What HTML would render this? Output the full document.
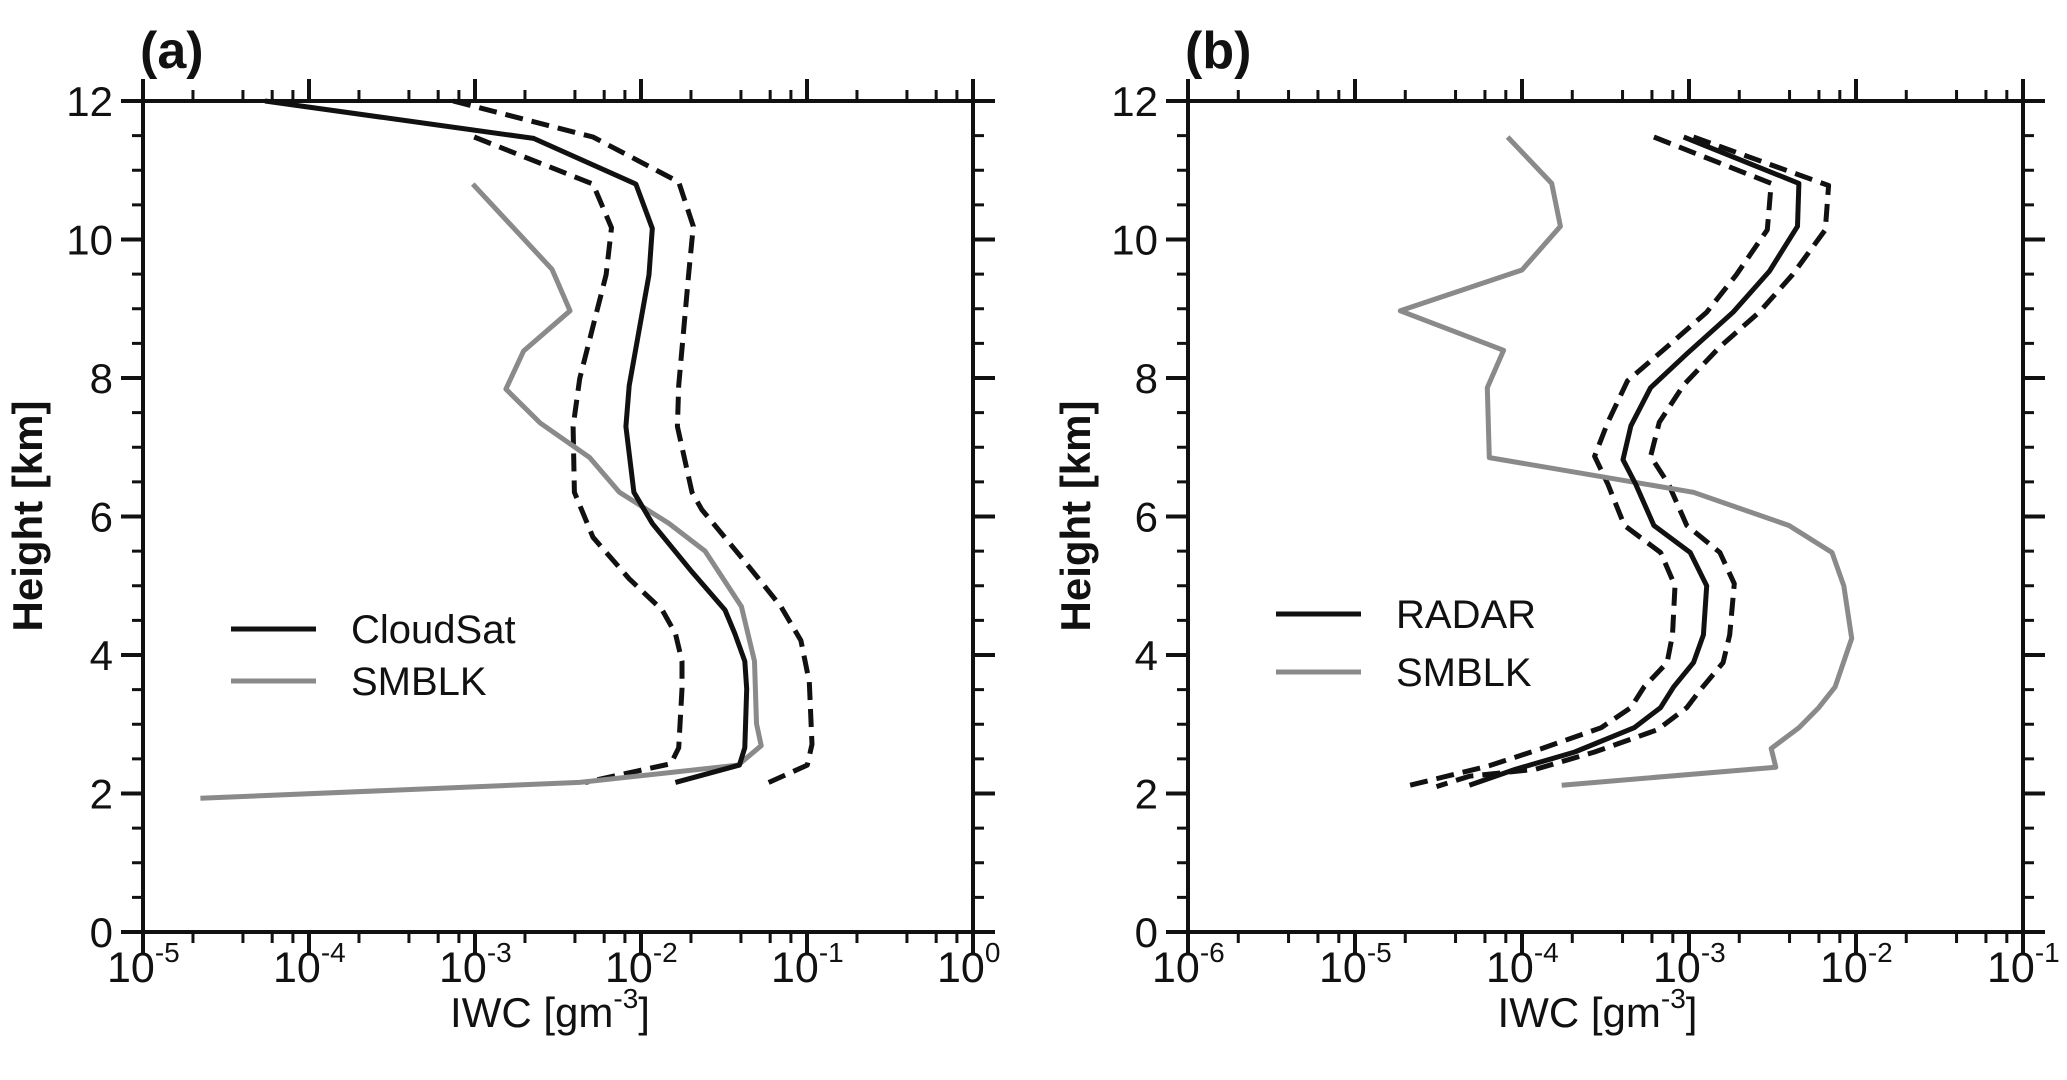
<!DOCTYPE html>
<html><head><meta charset="utf-8"><style>
html,body{margin:0;padding:0;background:#fff}
svg{display:block}
text{font-family:"Liberation Sans",sans-serif;fill:#111}
</style></head><body>
<svg id="fig" width="2067" height="1080" viewBox="0 0 2067 1080"></svg>
<script>
// Panel (a) data: heights km, log10 IWC
const aCloudH=[12.0,11.46,10.80,10.16,9.49,7.89,7.30,6.35,5.90,5.20,4.65,4.31,3.91,3.51,2.66,2.41,2.16];
const aCloudX=[-4.265,-2.647,-2.031,-1.932,-1.952,-2.071,-2.091,-2.043,-1.932,-1.693,-1.494,-1.435,-1.375,-1.363,-1.375,-1.407,-1.793];
const aUpH=[12.0,11.48,10.83,10.19,9.49,7.89,7.30,6.35,6.10,5.35,4.70,4.21,3.61,2.71,2.41,2.14];
const aUpX=[-3.132,-2.289,-1.773,-1.685,-1.713,-1.773,-1.781,-1.693,-1.634,-1.375,-1.157,-1.037,-0.986,-0.970,-0.998,-1.248];
const aLoH=[11.48,10.80,10.17,9.49,7.99,7.30,6.35,5.70,5.10,4.65,4.31,3.91,3.51,2.66,2.43,2.16];
const aLoX=[-3.005,-2.289,-2.178,-2.210,-2.369,-2.409,-2.401,-2.289,-2.071,-1.872,-1.793,-1.753,-1.753,-1.773,-1.820,-2.337];
const aSmH=[10.80,9.57,8.97,8.39,7.84,7.35,6.85,6.35,5.90,5.50,4.70,3.91,3.01,2.69,2.41,2.16,1.93];
const aSmX=[-3.013,-2.536,-2.428,-2.707,-2.814,-2.607,-2.309,-2.130,-1.832,-1.614,-1.395,-1.316,-1.304,-1.276,-1.415,-2.369,-4.654];
// Panel (b) data
const bRadH=[11.48,10.81,10.19,9.54,8.95,8.35,7.86,7.31,6.82,6.47,5.87,5.48,5.00,4.29,3.89,3.54,3.24,2.95,2.60,2.35,2.12];
const bRadX=[-3.032,-2.342,-2.350,-2.519,-2.736,-3.013,-3.230,-3.348,-3.395,-3.320,-3.210,-2.993,-2.894,-2.914,-2.973,-3.092,-3.170,-3.328,-3.684,-4.039,-4.315];
const bUpH=[11.48,10.78,10.14,9.49,8.95,8.45,7.90,7.36,6.87,6.47,5.87,5.48,5.03,4.29,3.89,3.49,3.24,2.92,2.60,2.35,2.25,2.10];
const bUpX=[-2.973,-2.164,-2.184,-2.381,-2.579,-2.815,-3.032,-3.178,-3.230,-3.123,-3.013,-2.815,-2.729,-2.756,-2.796,-2.934,-3.013,-3.190,-3.565,-3.920,-4.315,-4.512];
const bLoH=[11.48,10.81,10.14,9.49,8.95,8.45,7.96,7.36,6.87,6.47,5.87,5.48,5.00,4.29,3.89,3.54,3.24,2.95,2.65,2.40,2.12];
const bLoX=[-3.210,-2.508,-2.531,-2.717,-2.894,-3.131,-3.368,-3.486,-3.565,-3.486,-3.387,-3.170,-3.084,-3.099,-3.131,-3.269,-3.348,-3.526,-3.881,-4.197,-4.670];
const bSmH=[11.48,10.81,10.19,9.56,8.97,8.40,7.86,6.85,6.35,5.87,5.48,5.00,4.24,3.54,3.24,2.95,2.65,2.38,2.12];
const bSmX=[-4.086,-3.822,-3.770,-4.000,-4.729,-4.110,-4.208,-4.196,-2.973,-2.401,-2.144,-2.073,-2.026,-2.125,-2.223,-2.342,-2.508,-2.480,-3.762];
const yTicks=[0,2,4,6,8,10,12];
const aXExp=[-5,-4,-3,-2,-1,0];
const bXExp=[-6,-5,-4,-3,-2,-1];

const NS="http://www.w3.org/2000/svg";
const svg=document.getElementById('fig');
function mk(tag,attrs,parent){const e=document.createElementNS(NS,tag);for(const k in attrs)e.setAttribute(k,attrs[k]);(parent||svg).appendChild(e);return e;}

function panel(cfg){
  const g=mk('g',{});
  
  
  const L=cfg.left,R=cfg.right,T=101,B=932;
  const x0=cfg.exps[0],x1=cfg.exps[cfg.exps.length-1];
  const sx=v=>L+(v-x0)/(x1-x0)*(R-L);
  const sy=h=>B-h/12*(B-T);
  const fr=mk('rect',{x:L,y:T,width:R-L,height:B-T,fill:'none',stroke:'#111','stroke-width':4},g);
  
  
  for(let h=0;h<=12.001;h+=0.5){
    const maj=Math.abs(h%2)<1e-6; const len=maj?22:11; const y=sy(h);
    mk('line',{x1:L-len,y1:y,x2:L,y2:y,stroke:'#111','stroke-width':maj?4:3},g);
    mk('line',{x1:R,y1:y,x2:R+len,y2:y,stroke:'#111','stroke-width':maj?4:3},g);
  }
  yTicks.forEach(t=>{
    const tx=mk('text',{x:L-30,y:sy(t)+15,'font-size':42,'text-anchor':'end'},g);
    tx.textContent=t;
    
    
  });
  for(let d=x0;d<x1;d++){
    [1,2,4,6,8].forEach(m=>{
      const v=d+Math.log10(m); const x=sx(v); const maj=m===1; const len=maj?22:11;
      mk('line',{x1:x,y1:B,x2:x,y2:B+len,stroke:'#111','stroke-width':maj?4:3},g);
      mk('line',{x1:x,y1:T-len,x2:x,y2:T,stroke:'#111','stroke-width':maj?4:3},g);
    });
  }
  {const x=sx(x1);
    mk('line',{x1:x,y1:B,x2:x,y2:B+22,stroke:'#111','stroke-width':4},g);
    mk('line',{x1:x,y1:T-22,x2:x,y2:T,stroke:'#111','stroke-width':4},g);}
  cfg.exps.forEach(e=>{
    const tx=mk('text',{x:sx(e)-36,y:982,'font-size':43},g);
    
    
    tx.appendChild(document.createTextNode('10'));
    const sp=mk('tspan',{dy:-20,'font-size':28},tx); sp.textContent=e;
  });
  const yt=mk('text',{x:0,y:0,'font-size':42,'font-weight':'bold','text-anchor':'middle',transform:`translate(${cfg.ytx},516) rotate(-90)`},g);
  yt.textContent='Height [km]';
  
  
  const xt=mk('text',{x:(L+R)/2-8,y:1027,'font-size':42,'text-anchor':'middle'},g);
  
  
  xt.appendChild(document.createTextNode('IWC [gm'));
  const s2=mk('tspan',{dy:-19,'font-size':28},xt); s2.textContent='-3';
  const s3=mk('tspan',{dy:19},xt); s3.textContent=']';
  const pl=mk('text',{x:L-3,y:68,'font-size':52,'font-weight':'bold'},g);
  pl.textContent=cfg.label;
  
  
  cfg.series.forEach(s=>{
    const pts=s.h.map((h,i)=>sx(s.x[i]).toFixed(1)+','+sy(h).toFixed(1)).join(' ');
    const p=mk('polyline',{points:pts,fill:'none',stroke:s.color,'stroke-width':5,'stroke-linejoin':'round','stroke-dasharray':s.dash||'none'},g);
    
    
  });
  cfg.legend.forEach((lg,i)=>{
    const y=cfg.legY[i];
    const ln=mk('line',{x1:cfg.legX,y1:y,x2:cfg.legX+85,y2:y,stroke:lg.color,'stroke-width':5},g);
    
    
    const t=mk('text',{x:cfg.legX+120,y:y+14,'font-size':40},g);
    t.textContent=lg.text;
    
    
  });
}
panel({name:'panel-a',label:'(a)',left:143,right:973,exps:aXExp,ytx:42,
  series:[{h:aLoH,x:aLoX,color:'#111',dash:'18 9',name:'cloudsat-lower-dashed'},
          {h:aUpH,x:aUpX,color:'#111',dash:'18 9',name:'cloudsat-upper-dashed'},
          {h:aSmH,x:aSmX,color:'#8a8a8a',name:'smblk-line'},
          {h:aCloudH,x:aCloudX,color:'#111',name:'cloudsat-line'}],
  legend:[{text:'CloudSat',color:'#111'},{text:'SMBLK',color:'#8a8a8a'}],legX:231,legY:[629,681]});
panel({name:'panel-b',label:'(b)',left:1188,right:2023,exps:bXExp,ytx:1090,
  series:[{h:bLoH,x:bLoX,color:'#111',dash:'18 9',name:'radar-lower-dashed'},
          {h:bUpH,x:bUpX,color:'#111',dash:'18 9',name:'radar-upper-dashed'},
          {h:bSmH,x:bSmX,color:'#8a8a8a',name:'smblk-line'},
          {h:bRadH,x:bRadX,color:'#111',name:'radar-line'}],
  legend:[{text:'RADAR',color:'#111'},{text:'SMBLK',color:'#8a8a8a'}],legX:1276,legY:[614,672]});
</script>
</body></html>
